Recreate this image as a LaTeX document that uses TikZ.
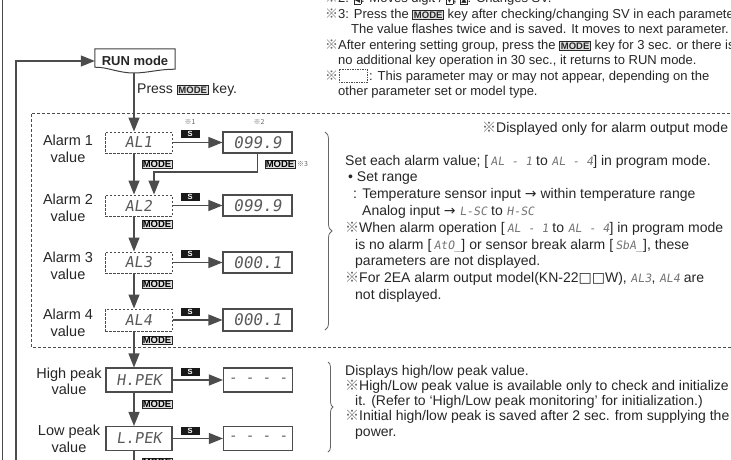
\documentclass[tikz,border=0pt]{standalone}
\usepackage{fontspec}
\setmainfont{Liberation Sans}
\newfontfamily\cjk{Noto Sans CJK JP}
\newfontfamily\segfont{DejaVu Sans Mono}[FakeSlant=0.15]
\newfontfamily\djv{DejaVu Sans}
\usetikzlibrary{arrows.meta,decorations.pathreplacing,calc}
\newcommand{\kome}{{\cjk\color{black!60}※}}
\newcommand{\sg}[1]{{\segfont\fontsize{11.5}{11.5}\selectfont\color{black!55}#1}}
\newcommand{\mkeyi}[1]{{\setlength{\fboxsep}{0.8pt}\setlength{\fboxrule}{0.8pt}\fcolorbox{black!85}{black!12}{\bfseries\fontsize{#1}{#1}\selectfont MODE}}}
\newcommand{\kb}[1]{{\setlength{\fboxsep}{0.5pt}\fbox{\djv\fontsize{7}{7}\selectfont #1}}}
\tikzset{
 ln/.style={draw=black!70, line width=1.2pt},
 arr/.style={ln, -{Triangle[length=14pt,width=11pt]}},
 dbox/.style={draw=black!70, dash pattern=on 2.5pt off 1.5pt, line width=1pt, minimum width=67pt, minimum height=21pt, inner sep=0pt, font=\segfont\fontsize{15}{15}\selectfont, text=black!65},
 vbox/.style={draw=black!70, line width=1.1pt, minimum width=69pt, minimum height=21pt, inner sep=0pt, font=\segfont\fontsize{16}{16}\selectfont, text=black!65},
 skey/.style={fill=black!90, text=white, font=\bfseries\fontsize{7.5}{7.5}\selectfont, minimum width=19pt, minimum height=8pt, inner sep=0pt},
 mkey/.style={draw=black!85, fill=black!12, line width=0.7pt, font=\bfseries\fontsize{9.5}{9.5}\selectfont, inner sep=0.5pt, minimum width=30pt, minimum height=8pt},
 lbl/.style={align=center, font=\fontsize{14.5}{16.5}\selectfont, text=black!85},
 tx/.style={anchor=base west, inner sep=0pt, font=\fontsize{14}{15}\selectfont, text=black!85},
 nt/.style={anchor=base west, inner sep=0pt, font=\fontsize{13}{14}\selectfont, text=black!85},
 note/.style={font=\cjk\fontsize{7}{7}\selectfont, text=black!60, inner sep=0pt},
 brc/.style={draw=black!60, line width=0.8pt, decorate, decoration={brace, amplitude=7pt}},
 big/.style={draw=black!70, line width=0.9pt, dash pattern=on 3pt off 2pt},
}
\begin{document}
\begin{tikzpicture}[x=1pt,y=-1pt]
\useasboundingbox (0,0) rectangle (731,459);
% outer lines
\coordinate (ot) at (2.5,-5);
\coordinate (ob) at (2.5,465);
\draw[ln] (ot) -- (ob);
% run mode
\node[font=\bfseries\fontsize{13}{13}\selectfont, text=black!85, minimum width=80pt, minimum height=24pt, inner sep=0pt] (run) at (135,61) {RUN mode};
\draw[line width=1pt, draw=black!75] (run.north west) -- (run.north east) -- ([yshift=4pt]run.south east) .. controls (160,69) and (147,73) .. (134,73) .. controls (118,73) and (108,67) .. ([yshift=6pt]run.south west) -- cycle;
\coordinate (lb) at (16,465);
\draw[arr] (lb) |- (run.west);
\node[font=\fontsize{14}{14}\selectfont, anchor=base west, inner sep=0pt, text=black!85] (press) at (137,93) {Press \mkeyi{9.5} key.};
\coordinate (c) at (134,0);
% big dashed group
\coordinate (g1) at (740,113);
\coordinate (g2) at (31,347);
\coordinate (g3) at (740,347);
\draw[big] (g1) -| (g2) -- (g3);
% rows
\node[dbox] (al1) at (138.5,142.5) {AL1};
\node[vbox] (v1) at (257.5,142.5) {099.9};
\node[dbox] (al2) at (138.5,205.5) {AL2};
\node[vbox] (v2) at (257.5,205.5) {099.9};
\node[dbox] (al3) at (138.5,262.5) {AL3};
\node[vbox] (v3) at (257.5,262.5) {000.1};
\node[dbox, minimum height=22pt] (al4) at (138.5,320) {AL4};
\node[vbox, minimum height=22pt] (v4) at (257.5,320) {000.1};
\node[vbox, minimum width=66pt, minimum height=24pt, font=\segfont\fontsize{15}{15}\selectfont] (hp) at (139,380) {H.PEK};
\node[vbox, minimum height=24pt, font=\segfont\fontsize{14}{14}\selectfont] (hv) at (258,380) {- - - -};
\node[vbox, minimum width=66pt, minimum height=24pt, font=\segfont\fontsize{15}{15}\selectfont] (lp) at (139,438.5) {L.PEK};
\node[vbox, minimum height=24pt, font=\segfont\fontsize{14}{14}\selectfont] (lv) at (258,438.5) {- - - -};
% labels
\node[lbl] at (68,149) {Alarm 1\\value};
\node[lbl] at (68,208) {Alarm 2\\value};
\node[lbl] at (68,266) {Alarm 3\\value};
\node[lbl] at (68,323) {Alarm 4\\value};
\node[lbl] at (69,381.5) {High peak\\value};
\node[lbl] at (69,439) {Low peak\\value};
% S keys and arrows
\node[skey] (s1) at (190,134) {S};
\node[skey] (s2) at (190,197) {S};
\node[skey] (s3) at (190,254) {S};
\node[skey] (s4) at (190,311.5) {S};
\node[skey] (s5) at (190,372) {S};
\node[skey] (s6) at (190,430.5) {S};
\draw[arr] (al1.east) -- (v1.west);
\draw[arr] (al2.east) -- (v2.west);
\draw[arr] (al3.east) -- (v3.west);
\draw[arr] (al4.east) -- (v4.west);
\draw[arr] (hp.east) -- (hv.west);
\draw[arr] (lp.east) -- (lv.west);
\node[note] (n1) at (190,122) {※1};
\node[note] (n2) at (259,122) {※2};
% main column
\coordinate (cb) at (134,465);
\draw[arr] (run.south -| c) -- (al1.north -| c);
\draw[arr] (al1.south -| c) -- (al2.north -| c);
\draw[arr] (al2.south -| c) -- (al3.north -| c);
\draw[arr] (al3.south -| c) -- (al4.north -| c);
\draw[arr] (al4.south -| c) -- (hp.north -| c);
\draw[arr] (hp.south -| c) -- (lp.north -| c);
\draw[ln] (lp.south -| c) -- (cb);
% return route
\coordinate (turn) at (154,172);
\draw[arr] (v1.south) |- (turn) -- (turn |- al2.north);
% MODE keys
\node[mkey] (m1) at (157,164) {MODE};
\node[mkey] (m2) at (157,224) {MODE};
\node[mkey] (m3) at (157,284) {MODE};
\node[mkey] (m4) at (157,340) {MODE};
\node[mkey] (m5) at (157,404) {MODE};
\node[mkey] (m6) at (157,462) {MODE};
\node[mkey] (m7) at (280,164) {MODE};
\node[note, anchor=west] (n3) at ([xshift=1.5pt]m7.east) {※3};
% braces
\draw[brc] (325,132) -- (325,330);
\draw[brc, decoration={brace, amplitude=5pt}] (328,362) -- (328,452);
% top notes
\node[nt] at (325,2.5) {\kome 2: \kb{◀}: Moves digit / \kb{▼}, \kb{▲}: Changes SV.};
\node[nt] at (325,18) {\kome 3: Press the \mkeyi{9.5} key after checking/changing SV in each parameter.};
\node[nt] at (351,33.5) {The value flashes twice and is saved. It moves to next parameter.};
\node[nt] at (325,49) {\kome After entering setting group, press the \mkeyi{9.5} key for 3 sec. or there is};
\node[nt] at (338,64.5) {no additional key operation in 30 sec., it returns to RUN mode.};
\node[nt] at (325,80) {\kome\hspace{31pt}: This parameter may or may not appear, depending on the};
\node[nt] at (338,95.5) {other parameter set or model type.};
\draw[draw=black!70, line width=0.7pt, dash pattern=on 1.5pt off 1pt] (339,69) rectangle (367,82);
% right texts
\node[tx] at (482,132) {\kome Displayed only for alarm output mode};
\node[tx] at (345,165) {Set each alarm value; [\,\sg{AL - 1} to \sg{AL - 4}] in program mode.};
\node[tx] at (348,181.8) {• Set range};
\node[tx] at (353,198.6) {: Temperature sensor input {\djv→} within temperature range};
\node[tx] at (362,215.4) {Analog input {\djv→} \sg{L-SC} to \sg{H-SC}};
\node[tx] at (345,232.2) {\kome When alarm operation [\,\sg{AL - 1} to \sg{AL - 4}] in program mode};
\node[tx] at (355,249) {is no alarm [\,\sg{AtO\_}] or sensor break alarm [\,\sg{SbA\_}], these};
\node[tx] at (355,265.8) {parameters are not displayed.};
\node[tx] at (345,282.6) {\kome For 2EA alarm output model(KN-22{\djv□□}W), \sg{AL3}, \sg{AL4} are};
\node[tx] at (355,299.4) {not displayed.};
\node[tx] at (345,375) {Displays high/low peak value.};
\node[tx] at (345,390.3) {\kome High/Low peak value is available only to check and initialize};
\node[tx] at (355,405.6) {it. (Refer to ‘High/Low peak monitoring’ for initialization.)};
\node[tx] at (345,420.9) {\kome Initial high/low peak is saved after 2 sec. from supplying the};
\node[tx] at (355,436.2) {power.};
\end{tikzpicture}
\end{document}
